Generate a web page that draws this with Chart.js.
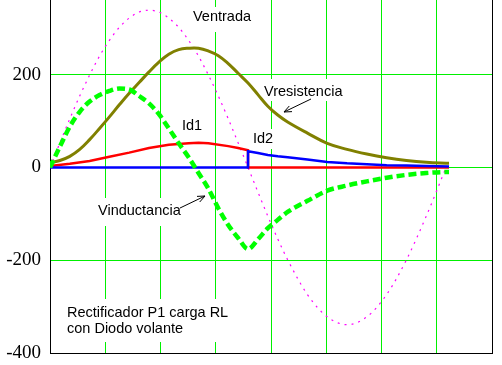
<!DOCTYPE html>
<html><head><meta charset="utf-8">
<script src="https://cdn.jsdelivr.net/npm/chart.js@4/dist/chart.umd.min.js"></script>
<style>html,body{margin:0;padding:0;background:#fff;overflow:hidden}#wrap{width:502px;height:365px}</style>
</head><body><div id="wrap"><canvas id="c" width="502" height="365"></canvas></div>
<script>
// time axis (ms)
const tiempo = [0,0.5,1,1.5,2,2.5,3,3.5,4,4.5,5,5.5,6,6.5,7,7.5,8,8.5,9,9.5,10,10.5,11,11.5,12,13,14,15,16,17,18,19,20];
const tFin = 20.15;
const xMax = 22.32;
const xDivisiones = 8;
const yTicks = [-400,-200,0,200];
const yMin = -400, yMax = 361;

const ventrada = [0,53,105,154,199,240,274,302,322,335,339,335,322,302,274,240,199,154,105,53,0,-53,-105,-154,-199,-274,-322,-339,-322,-274,-199,-105,0];
const vresistencia = [10,15,24,39,60,84,109,135,160,183,206,227,244,254,257,257,251,241,224,203,182,157,132,113,98,74,52,39,29,21,15,11,9,9];
const vinductancia = [0,45,88,120,142,156,165,170,168,154,138,115,84,52,22,-12,-46,-88,-124,-152,-176,-155,-131,-113,-96,-72,-50,-39,-30,-22,-16,-12,-10,-10];
const id1T = [0,1,2,3,4,5,6,7,7.5,8,9,9.5,10,10,20.15];
const id1 = [3,8,14,23,32,42,49,52,53,52,46,42,37,0,0];
const id2T = [0,10,10,10.5,11,11.5,12,13,14,15,16,17,18,19,20.15];
const id2 = [0,0,35,31,27,24,22,17,12,9,7,5,4,3,2];

const nombres = ['Ventrada','Vresistencia','Vinductancia','Id1','Id2'];
const nota = ['Rectificador P1 carga RL','con Diodo volante'];

function pts(ts, vs){ return vs.map((v,i)=>({x: i < ts.length ? ts[i] : tFin, y: v})); }

const GREEN = '#00f000';
const FONT = "14.5px 'Liberation Sans', Arial, sans-serif";

const annot = {
  id:'annot',
  beforeDatasetsDraw(chart){
    const c = chart.ctx;
    c.save();
    const boxes = [[188,7,256,32],[260,79,347,101],[178,115,203,134],[249,129,275,149],[94,198,183,226],[60,299,236,342]];
    c.fillStyle = '#fff';
    boxes.forEach(b=>c.fillRect(b[0],b[1],b[2]-b[0],b[3]-b[1]));
    c.fillStyle = '#000';
    c.font = FONT;
    c.textAlign = 'left';
    c.textBaseline = 'alphabetic';
    c.fillText(nombres[0],193,21);
    c.fillText(nombres[1],264,96);
    c.fillText(nombres[3],182,130);
    c.fillText(nombres[4],253,143);
    c.fillText(nombres[2],98,215);
    c.fillText(nota[0],67,317);
    c.fillText(nota[1],67,333);
    function arrow(x0,y0,x1,y1){
      c.strokeStyle='#000'; c.lineWidth=1;
      c.beginPath(); c.moveTo(x0,y0); c.lineTo(x1,y1); c.stroke();
      const a = Math.atan2(y1-y0,x1-x0), L=8, w=0.4;
      c.beginPath();
      c.moveTo(x1-L*Math.cos(a-w), y1-L*Math.sin(a-w));
      c.lineTo(x1,y1);
      c.lineTo(x1-L*Math.cos(a+w), y1-L*Math.sin(a+w));
      c.stroke();
    }
    arrow(311,99,284,112);
    arrow(180,208,205,196);
    c.restore();
  }
};

new Chart(document.getElementById('c'), {
  type:'line',
  data:{datasets:[
    {label:nombres[2], data:pts(tiempo,vinductancia), borderColor:'#00ff00', borderWidth:4.5, borderDash:[8,4], borderCapStyle:'butt', cubicInterpolationMode:'monotone', order:0},
    {label:nombres[4], data:pts(id2T,id2), borderColor:'#0000ff', borderWidth:2.5, tension:0, order:1},
    {label:nombres[3], data:pts(id1T,id1), borderColor:'#ff0000', borderWidth:2.5, tension:0, order:2},
    {label:nombres[1], data:pts(tiempo,vresistencia), borderColor:'#808000', borderWidth:3, tension:0.4, order:3},
    {label:nombres[0], data:pts(tiempo,ventrada), borderColor:'#ff00ff', borderWidth:1.2, borderDash:[2,5], cubicInterpolationMode:'monotone', order:4}
  ]},
  options:{
    responsive:false, animation:false, devicePixelRatio:1,
    layout:{padding:{left:0,right:10,top:0,bottom:0}, autoPadding:false},
    plugins:{legend:{display:false}, tooltip:{enabled:false}},
    elements:{point:{radius:0}, line:{fill:false}},
    scales:{
      x:{type:'linear', min:0, max:xMax,
        afterBuildTicks:s=>{ s.ticks = Array.from({length:xDivisiones+1},(_,i)=>({value:i*xMax/xDivisiones})); },
        ticks:{display:false},
        grid:{color:c=> c.index===0 ? 'rgba(0,0,0,0)' : (c.index===xDivisiones ? '#000' : GREEN), lineWidth:1, drawTicks:false},
        border:{display:true, color:'#000', width:1},
        afterFit:s=>{ s.height = 12; s.paddingLeft = 0; s.paddingRight = 0; s.paddingTop = 0; s.paddingBottom = 0; }
      },
      y:{type:'linear', min:yMin, max:yMax,
        afterBuildTicks:s=>{ s.ticks = yTicks.map(v=>({value:v})); },
        ticks:{color:'#000', padding:9, font:{family:"'Liberation Serif', 'Times New Roman', serif", size:19}, callback:v=>String(v)},
        grid:{color:c=> (c.tick && c.tick.value===yMin) ? 'rgba(0,0,0,0)' : GREEN, lineWidth:1, drawTicks:false},
        border:{display:true, color:'#000', width:1},
        afterFit:s=>{ s.width = 50; s.paddingTop = 0; s.paddingBottom = 0; s.paddingLeft = 0; s.paddingRight = 0; }
      }
    }
  },
  plugins:[annot]
});
</script></body></html>
